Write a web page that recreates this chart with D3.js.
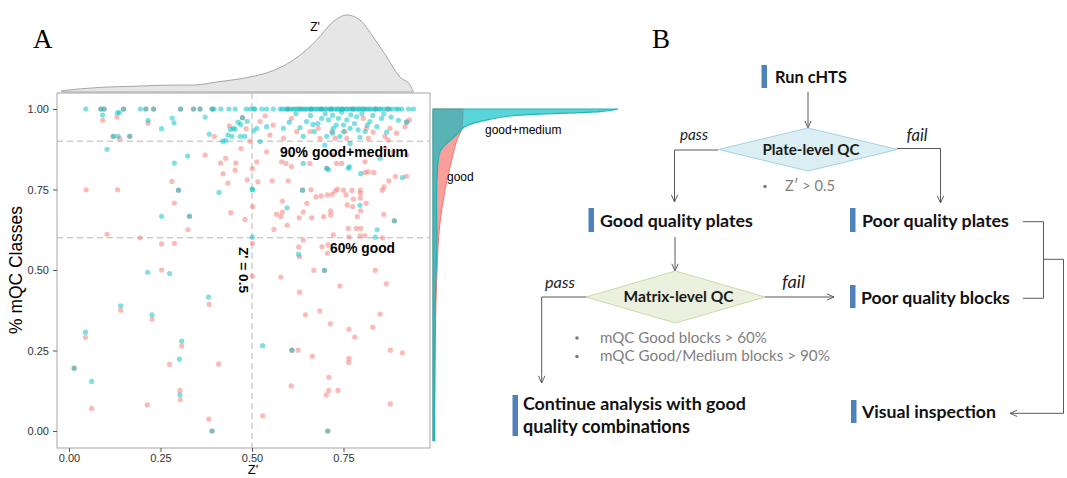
<!DOCTYPE html>
<html>
<head>
<meta charset="utf-8">
<script src="https://cdn.jsdelivr.net/npm/d3@7"></script>
<style>
  body { margin: 0; background: #fff; }
  svg { display: block; }
</style>
</head>
<body>
<svg id="chart"></svg>
<script>
// ---- data ----
const zTicks = [0, 0.25, 0.5, 0.75];
const pctTicks = [0, 0.25, 0.5, 0.75, 1];

// plates where good+medium blocks = 100%
const goodMedAt100 = [0.046,0.087,0.096,0.149,0.195,0.210,0.231,0.305,0.340,0.358,0.391,0.396,0.415,0.437,0.454,0.484,0.495,0.505,0.508,0.527,0.540,0.558,0.577,0.583,0.592,0.597,0.604,0.611,0.616,0.623,0.628,0.636,0.642,0.647,0.653,0.660,0.664,0.671,0.677,0.683,0.690,0.694,0.701,0.707,0.714,0.718,0.725,0.732,0.736,0.743,0.748,0.756,0.760,0.767,0.773,0.778,0.785,0.791,0.795,0.802,0.808,0.815,0.820,0.826,0.834,0.839,0.847,0.852,0.860,0.869,0.875,0.883,0.894,0.900,0.909,0.928,0.941];
// plates where good blocks = 100%
const goodAt100 = [0.087,0.096,0.149,0.210,0.231,0.305,0.340,0.358,0.391,0.598,0.632,0.661,0.688,0.716,0.747,0.776,0.806,0.838,0.871];

// [Z', % good+medium]
const goodMedPts = [
  [0.092,0.981],[0.132,0.988],[0.138,0.989],[0.216,0.965],[0.253,0.939],[0.282,0.972],[0.287,0.957],
  [0.121,0.915],[0.134,0.915],[0.166,0.915],[0.104,0.875],[0.372,0.975],[0.383,0.922],[0.420,0.900],
  [0.428,0.902],[0.434,0.919],[0.441,0.936],[0.449,0.940],[0.454,0.937],[0.445,0.915],[0.468,0.915],
  [0.480,0.915],[0.462,0.959],[0.469,0.952],[0.474,0.973],[0.487,0.962],[0.324,0.854],[0.288,0.832],
  [0.299,0.748],[0.410,0.741],[0.501,0.749],[0.253,0.667],[0.329,0.667],[0.501,0.602],
  [0.513,0.940],[0.540,0.945],[0.586,0.940],[0.602,0.959],[0.631,0.942],[0.649,0.961],[0.667,0.952],
  [0.690,0.971],[0.709,0.966],[0.722,0.940],[0.736,0.971],[0.750,0.950],[0.759,0.966],[0.768,0.940],
  [0.786,0.976],[0.809,0.930],[0.822,0.961],[0.841,0.945],[0.854,0.971],[0.868,0.928],[0.640,0.915],
  [0.704,0.915],[0.740,0.915],[0.795,0.912],[0.699,0.888],[0.768,0.893],[0.522,0.899],[0.504,0.932],
  [0.922,0.959],[0.620,0.985],[0.660,0.980],[0.700,0.985],[0.720,0.980],[0.745,0.990],[0.770,0.982],
  [0.800,0.985],[0.830,0.980],[0.860,0.985],[0.880,0.975],[0.900,0.965],[0.680,0.955],[0.730,0.950],
  [0.780,0.955],[0.815,0.950],[0.750,0.930],[0.790,0.935],[0.670,0.930],[0.720,0.925],
  [0.640,0.831],[0.709,0.811],[0.766,0.821],[0.850,0.847],[0.704,0.816],[0.763,0.816],[0.797,0.799],
  [0.911,0.787],[0.501,0.751],[0.638,0.748],[0.596,0.693],[0.795,0.701],[0.889,0.653],[0.842,0.625],
  [0.837,0.602],[0.627,0.549],[0.698,0.499],
  [0.215,0.493],[0.275,0.489],[0.381,0.416],[0.141,0.389],[0.227,0.361],[0.045,0.307],[0.308,0.279],
  [0.302,0.223],[0.014,0.195],[0.062,0.154],[0.303,0.112],[0.391,0.000],[0.529,0.265],[0.609,0.251],
  [0.707,0.000]
];

// [Z', % good]
const goodPts = [
  [0.092,0.965],[0.131,0.975],[0.216,0.956],[0.121,0.915],[0.166,0.915],[0.139,0.908],[0.397,0.915],
  [0.438,0.948],[0.474,0.973],[0.484,0.939],[0.495,0.900],[0.372,0.857],[0.414,0.832],[0.428,0.847],
  [0.456,0.832],[0.470,0.877],[0.421,0.799],[0.454,0.810],[0.434,0.770],[0.487,0.780],[0.281,0.775],
  [0.047,0.749],[0.133,0.749],[0.299,0.748],[0.288,0.708],[0.442,0.678],[0.502,0.697],[0.481,0.657],
  [0.329,0.667],[0.325,0.625],[0.104,0.611],[0.194,0.600],[0.253,0.581],[0.288,0.583],[0.501,0.583],
  [0.253,0.500],[0.501,0.481],[0.383,0.393],[0.141,0.375],[0.227,0.347],[0.045,0.291],[0.308,0.264],
  [0.275,0.207],[0.409,0.208],[0.014,0.195],[0.062,0.070],[0.303,0.126],[0.304,0.097],[0.214,0.081],
  [0.382,0.037],[0.391,0.000],
  [0.522,0.961],[0.558,0.950],[0.608,0.971],[0.622,0.930],[0.658,0.930],[0.681,0.940],[0.686,0.909],
  [0.718,0.930],[0.727,0.909],[0.754,0.930],[0.759,0.909],[0.804,0.971],[0.813,0.940],[0.818,0.909],
  [0.831,0.928],[0.863,0.915],[0.872,0.904],[0.877,0.940],[0.895,0.925],[0.930,0.966],[0.918,0.945],
  [0.586,0.909],[0.549,0.919],[0.923,0.960],[0.536,0.979],
  [0.540,0.867],[0.581,0.836],[0.593,0.831],[0.645,0.857],[0.658,0.831],[0.731,0.831],[0.745,0.831],
  [0.722,0.857],[0.809,0.836],[0.863,0.878],[0.886,0.867],[0.608,0.821],[0.923,0.857],[0.501,0.815],
  [0.513,0.836],[0.704,0.816],[0.809,0.803],[0.818,0.805],[0.833,0.803],
  [0.516,0.774],[0.555,0.777],[0.599,0.777],[0.638,0.748],[0.661,0.749],[0.583,0.714],[0.583,0.680],
  [0.567,0.673],[0.579,0.666],[0.560,0.626],[0.596,0.639],[0.629,0.662],[0.640,0.680],[0.650,0.707],
  [0.663,0.662],[0.675,0.727],[0.689,0.730],[0.706,0.733],[0.696,0.666],[0.715,0.671],[0.715,0.684],
  [0.719,0.735],[0.727,0.745],[0.734,0.751],[0.750,0.748],[0.757,0.733],[0.760,0.702],[0.773,0.747],
  [0.777,0.720],[0.775,0.697],[0.788,0.666],[0.796,0.723],[0.796,0.738],[0.812,0.707],[0.797,0.684],
  [0.796,0.748],[0.856,0.748],[0.861,0.758],[0.860,0.673],[0.874,0.777],[0.892,0.791],[0.922,0.791],
  [0.889,0.653],[0.763,0.629],[0.785,0.629],[0.797,0.629],[0.722,0.609],[0.765,0.603],[0.795,0.606],
  [0.808,0.607],[0.857,0.600],[0.640,0.593],[0.691,0.572],[0.708,0.578],[0.628,0.571],[0.630,0.541],
  [0.706,0.552],[0.669,0.499],[0.698,0.499],[0.837,0.499],[0.579,0.478],
  [0.740,0.450],[0.867,0.457],[0.630,0.431],[0.646,0.361],[0.685,0.373],[0.850,0.363],[0.714,0.333],
  [0.765,0.316],[0.830,0.322],[0.781,0.292],[0.609,0.251],[0.626,0.251],[0.878,0.251],[0.911,0.243],
  [0.665,0.232],[0.765,0.226],[0.764,0.213],[0.710,0.167],[0.607,0.140],[0.710,0.126],[0.735,0.126],
  [0.703,0.112],[0.878,0.084],[0.529,0.047],[0.707,0.000]
];

// marginal density of Z' (top)
const zDensZ = [-0.02, 0.085, 0.18, 0.284, 0.339, 0.404, 0.495, 0.540, 0.613, 0.677, 0.721, 0.759, 0.795, 0.831, 0.868, 0.904, 0.932, 0.941];
const zDensV = [0.07, 0.24, 0.30, 0.36, 0.36, 0.52, 0.78, 0.99, 1.66, 2.70, 3.64, 4.00, 3.74, 2.86, 1.82, 0.78, 0.36, 0.00];

// marginal densities of % classes (right)
const goodMedDensP = [1.0, 0.992, 0.981, 0.966, 0.945, 0.930, 0.910, 0.888, 0.867, 0.821, 0.717, 0.620, 0.540, 0.407, 0.200, -0.03];
const goodMedDensV = [40, 36.1, 18.8, 11.7, 6.9, 5.8, 4.3, 2.6, 1.5, 1.0, 0.75, 0.85, 0.75, 0.5, 0.4, 0.35];
const goodDensP = [1.0, 0.944, 0.904, 0.820, 0.748, 0.646, 0.491, 0.230, 0.025, -0.03];
const goodDensV = [6.5, 6.3, 5.2, 3.7, 2.6, 1.5, 0.86, 0.43, 0.22, 0.1];

// ---- drawing ----
const width = 1067, height = 478;
const salmon = '#F8766D', teal = '#00BFC4';
const sans = 'Liberation Sans, Arial, sans-serif';
const flowFont = 'Lato, Open Sans, sans-serif';

const svg = d3.select('#chart')
    .attr('width', width)
    .attr('height', height);

svg.append('rect').attr('width', width).attr('height', height).attr('fill', '#fff');

// scales
const x = d3.scaleLinear().domain([0, 1]).range([69, 435]);
const y = d3.scaleLinear().domain([0, 1]).range([431, 109]);
const panel = { left: 57, right: 430, top: 93, bottom: 448 };

function fit(sel, w) {
    const cur = sel.node().getComputedTextLength();
    const fs = parseFloat(sel.attr('font-size'));
    sel.attr('font-size', (fs * w / cur).toFixed(2));
    return sel;
}

// panel letters
svg.append('text').attr('x', 33).attr('y', 48).text('A')
    .attr('font-family', 'Liberation Serif, DejaVu Serif, serif').attr('font-size', 27);
svg.append('text').attr('x', 652).attr('y', 48).text('B')
    .attr('font-family', 'Liberation Serif, DejaVu Serif, serif').attr('font-size', 27);

// top marginal density
const yTop = d3.scaleLinear().domain([0, 4]).range([92, 15]);
const topData = zDensZ.map((z, i) => ({ z: z, v: zDensV[i] }));
svg.append('path')
    .datum(topData)
    .attr('d', d3.area().x(d => x(d.z)).y0(yTop(0)).y1(d => yTop(d.v)).curve(d3.curveMonotoneX))
    .attr('fill', '#e6e6e6')
    .attr('stroke', '#a6a6a6')
    .attr('stroke-width', 1);
svg.append('text').attr('x', 315).attr('y', 31).attr('text-anchor', 'middle')
    .attr('font-family', sans).attr('font-size', 12).text("Z'");

// panel border
svg.append('rect')
    .attr('x', panel.left).attr('y', panel.top)
    .attr('width', panel.right - panel.left).attr('height', panel.bottom - panel.top)
    .attr('fill', '#fff').attr('stroke', '#a6a6a6').attr('stroke-width', 1);

// reference lines
const dash = '6,4';
[0.9, 0.6].forEach(v => {
    svg.append('line')
        .attr('x1', panel.left).attr('x2', panel.right)
        .attr('y1', y(v)).attr('y2', y(v))
        .attr('stroke', '#b5b5b5').attr('stroke-dasharray', dash);
});
svg.append('line')
    .attr('x1', x(0.5)).attr('x2', x(0.5))
    .attr('y1', panel.top).attr('y2', panel.bottom)
    .attr('stroke', '#b5b5b5').attr('stroke-dasharray', dash);

// axes
const yAxis = svg.append('g')
    .attr('transform', `translate(${panel.left},0)`)
    .call(d3.axisLeft(y).tickValues(pctTicks).tickFormat(d3.format('.2f')).tickSize(4).tickPadding(4));
const xAxis = svg.append('g')
    .attr('transform', `translate(0,${panel.bottom})`)
    .call(d3.axisBottom(x).tickValues(zTicks).tickFormat(d3.format('.2f')).tickSize(4).tickPadding(2));
[yAxis, xAxis].forEach(g => {
    g.select('.domain').remove();
    g.selectAll('line').attr('stroke', '#555');
    g.selectAll('text').attr('font-family', sans).attr('font-size', 11).attr('fill', '#333');
});

fit(svg.append('text')
    .attr('transform', 'translate(22,270) rotate(-90)')
    .attr('text-anchor', 'middle')
    .attr('font-family', sans).attr('font-size', 15)
    .text('% mQC Classes'), 128);
svg.append('text')
    .attr('x', 253).attr('y', 474).attr('text-anchor', 'middle')
    .attr('font-family', sans).attr('font-size', 13)
    .text("Z'");

// points
const allGood = goodAt100.map(z => [z, 1]).concat(goodPts);
const allGoodMed = goodMedAt100.map(z => [z, 1]).concat(goodMedPts);
svg.append('g').selectAll('circle')
    .data(allGood)
    .join('circle')
    .attr('cx', d => x(d[0])).attr('cy', d => y(d[1])).attr('r', 2.6)
    .attr('fill', salmon).attr('fill-opacity', 0.5);
svg.append('g').selectAll('circle')
    .data(allGoodMed)
    .join('circle')
    .attr('cx', d => x(d[0])).attr('cy', d => y(d[1])).attr('r', 2.6)
    .attr('fill', teal).attr('fill-opacity', 0.5);

// annotations
fit(svg.append('text').attr('x', 280).attr('y', 157)
    .attr('font-family', sans).attr('font-weight', 'bold').attr('font-size', 14)
    .text('90% good+medium'), 128);
fit(svg.append('text').attr('x', 330).attr('y', 253)
    .attr('font-family', sans).attr('font-weight', 'bold').attr('font-size', 14)
    .text('60% good'), 65);
fit(svg.append('text').attr('transform', 'translate(239,270) rotate(90)')
    .attr('text-anchor', 'middle')
    .attr('font-family', sans).attr('font-weight', 'bold').attr('font-size', 13)
    .text("Z' = 0.5"), 46);

// right marginal densities
const xR = d3.scaleLinear().domain([0, 40]).range([433, 618]);
const goodDens = goodDensP.map((p, i) => ({ p: p, v: goodDensV[i] }));
const goodMedDens = goodMedDensP.map((p, i) => ({ p: p, v: goodMedDensV[i] }));
const areaR = d3.area().y(d => y(d.p)).x0(xR(0)).x1(d => xR(d.v)).curve(d3.curveMonotoneY);
svg.append('path').datum(goodDens).attr('d', areaR)
    .attr('fill', salmon).attr('fill-opacity', 0.7)
    .attr('stroke', salmon).attr('stroke-width', 1);
svg.append('path').datum(goodMedDens).attr('d', areaR)
    .attr('fill', teal).attr('fill-opacity', 0.65)
    .attr('stroke', '#1fb5b5').attr('stroke-width', 1.2);
svg.append('text').attr('x', 485).attr('y', 134)
    .attr('font-family', sans).attr('font-size', 12).text('good+medium');
svg.append('text').attr('x', 447).attr('y', 181)
    .attr('font-family', sans).attr('font-size', 12).text('good');

// ---- flowchart (panel B) ----
const lineColor = '#595959';
svg.append('defs').append('marker')
    .attr('id', 'arrow')
    .attr('viewBox', '0 0 10 10')
    .attr('refX', 10).attr('refY', 5)
    .attr('markerWidth', 8).attr('markerHeight', 8)
    .attr('markerUnits', 'userSpaceOnUse')
    .attr('orient', 'auto')
    .append('path')
    .attr('d', 'M1,1 L10,5 L1,9')
    .attr('fill', 'none').attr('stroke', lineColor).attr('stroke-width', 1.2);

function connector(points, arrow) {
    const p = svg.append('path')
        .attr('d', d3.line()(points))
        .attr('fill', 'none').attr('stroke', lineColor).attr('stroke-width', 1);
    if (arrow) p.attr('marker-end', 'url(#arrow)');
}

connector([[808, 92], [808, 128]], true);
connector([[718, 150], [674.5, 150], [674.5, 202]], true);
connector([[897, 148.5], [940.5, 148.5], [940.5, 203]], true);
connector([[675, 237], [675, 271]], true);
connector([[586, 297], [541.7, 297], [541.7, 383]], true);
connector([[765, 297], [834, 297]], true);
connector([[1023, 221.7], [1043.5, 221.7], [1043.5, 298.3], [1023, 298.3]], false);
connector([[1043.5, 259.3], [1063.5, 259.3], [1063.5, 413.3], [1010, 413.3]], true);

// decision diamonds
function diamond(cx, cy, hw, hh, fill, stroke, label, labelW) {
    svg.append('path')
        .attr('d', `M${cx - hw},${cy} L${cx},${cy - hh} L${cx + hw},${cy} L${cx},${cy + hh} Z`)
        .attr('fill', fill).attr('stroke', stroke).attr('stroke-width', 1);
    fit(svg.append('text').attr('x', cx + 3).attr('y', cy + 5).attr('text-anchor', 'middle')
        .attr('font-family', flowFont).attr('font-weight', 'bold').attr('font-size', 14)
        .attr('fill', '#1a1a1a').text(label), labelW);
}
diamond(808, 149.5, 89.5, 21.5, '#dbeef4', '#a5d3e2', 'Plate-level QC', 97);
diamond(675.5, 297, 89.5, 26, '#ebf1de', '#c9dba5', 'Matrix-level QC', 110);

// boxes with blue bar
function step(bx, by, bh, lines, tx, baselines, widths) {
    svg.append('rect').attr('x', bx).attr('y', by).attr('width', 5.5).attr('height', bh)
        .attr('fill', '#4f81bd');
    lines.forEach((t, i) => {
        fit(svg.append('text').attr('x', tx).attr('y', baselines[i])
            .attr('font-family', flowFont).attr('font-weight', 'bold').attr('font-size', 16)
            .attr('fill', '#111').text(t), widths[i]);
    });
}
step(761.5, 65, 23, ['Run cHTS'], 775, [83], [72]);
step(588.5, 208, 24, ['Good quality plates'], 600, [227], [153]);
step(850, 208, 24, ['Poor quality plates'], 862, [227], [147]);
step(850, 285, 23, ['Poor quality blocks'], 861, [304], [149]);
step(851, 400, 23, ['Visual inspection'], 862, [418], [134]);
step(512.5, 395, 41, ['Continue analysis with good', 'quality combinations'], 523, [409.5, 433], [223, 167]);

// pass / fail labels
function edgeLabel(tx, ty, t, w) {
    fit(svg.append('text').attr('x', tx).attr('y', ty)
        .attr('font-family', flowFont).attr('font-style', 'italic').attr('font-size', 14)
        .attr('fill', '#222').text(t), w);
}
edgeLabel(680, 140, 'pass', 28);
edgeLabel(906.5, 141, 'fail', 21);
edgeLabel(545, 288, 'pass', 30);
edgeLabel(782, 288, 'fail', 23);

// criteria bullets
function bullet(bx, tx, ty, t, w) {
    svg.append('circle').attr('cx', bx).attr('cy', ty - 4.5).attr('r', 1.8).attr('fill', '#7f7f7f');
    fit(svg.append('text').attr('x', tx).attr('y', ty)
        .attr('font-family', flowFont).attr('font-size', 14)
        .attr('fill', '#7f7f7f').text(t), w);
}
bullet(765, 785, 191, 'Z\u2032 > 0.5', 50);
bullet(577, 600, 342.5, 'mQC Good blocks > 60%', 167);
bullet(577, 600, 361, 'mQC Good/Medium blocks > 90%', 230);
</script>
</body>
</html>
